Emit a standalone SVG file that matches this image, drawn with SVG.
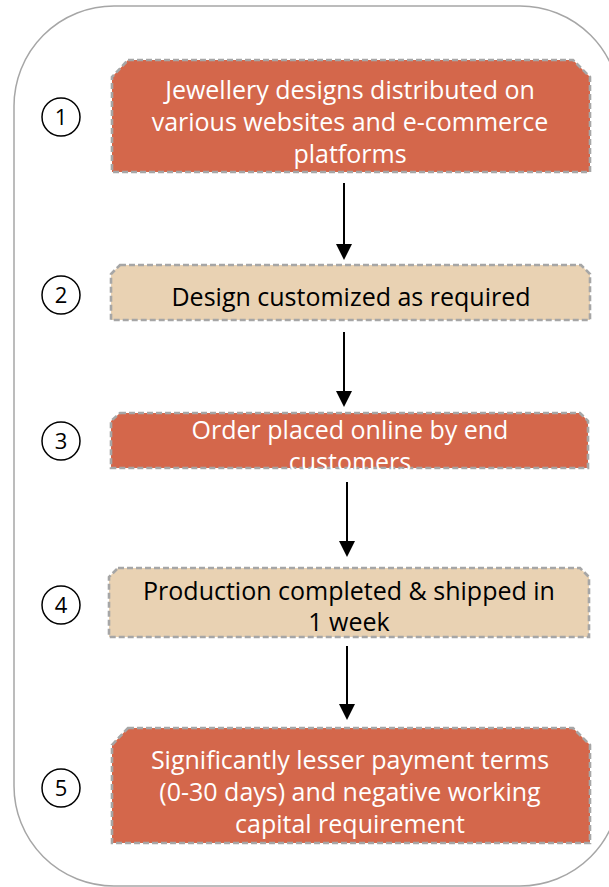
<svg xmlns="http://www.w3.org/2000/svg" width="609" height="887" viewBox="0 0 609 887">
<defs>
<style>
.frame{fill:none;stroke:#A6A6A6;stroke-width:1.5}
.red{fill:#D4674B;stroke:#A6A6A6;stroke-width:2.6;stroke-dasharray:6 3}
.tan{fill:#E9D2B3;stroke:#A6A6A6;stroke-width:2.6;stroke-dasharray:6 3}
.num{fill:none;stroke:#000;stroke-width:1.5}
.nt{font-family:"Open Sans","Noto Sans",sans-serif;font-size:22px;fill:#000;text-anchor:middle}
.wt{font-family:"Open Sans","Noto Sans",sans-serif;font-size:25px;fill:#fff;text-anchor:middle}
.bt{font-family:"Open Sans","Noto Sans",sans-serif;font-size:25px;fill:#000;text-anchor:middle}
.conn{stroke:#000;stroke-width:2;fill:none}
</style>
<marker id="ah" markerWidth="8" markerHeight="8" refX="7" refY="4" orient="auto" markerUnits="strokeWidth">
<path d="M0,0 L8,4 L0,8 Z" fill="#000"/>
</marker>
</defs>
<rect class="frame" x="14" y="6" width="606" height="880" rx="100" ry="100"/>
<g id="node1">
<path class="red" d="M128,60 H573 L590,77 V172 H112 V77 Z"/>
<text class="wt" x="350" y="99">Jewellery designs distributed on</text>
<text class="wt" x="350" y="131">various websites and e-commerce</text>
<text class="wt" x="350" y="163">platforms</text>
</g>
<g id="node2">
<path class="tan" d="M120,265 H581 L590,274 V320 H111 V274 Z"/>
<text class="bt" x="351" y="306">Design customized as required</text>
</g>
<g id="node3">
<path class="red" d="M120,413 H580 L588,421 V468 H111 V421 Z"/>
<text class="wt" x="350" y="439">Order placed online by end</text>
<text class="wt" x="350" y="471">customers</text>
</g>
<g id="node4">
<path class="tan" d="M118,568 H580 L589,577 V637 H109 V577 Z"/>
<text class="bt" x="349" y="600">Production completed &amp; shipped in</text>
<text class="bt" x="349" y="631">1 week</text>
</g>
<g id="node5">
<path class="red" d="M128,728 H573 L590,745 V843 H112 V745 Z"/>
<text class="wt" x="350" y="769">Significantly lesser payment terms</text>
<text class="wt" x="350" y="801">(0-30 days) and negative working</text>
<text class="wt" x="350" y="833">capital requirement</text>
</g>
<g id="num1"><circle class="num" cx="61" cy="117" r="19"/><text class="nt" x="61" y="125">1</text></g>
<g id="num2"><circle class="num" cx="61" cy="295" r="19"/><text class="nt" x="61" y="303">2</text></g>
<g id="num3"><circle class="num" cx="61" cy="441" r="19"/><text class="nt" x="61" y="449">3</text></g>
<g id="num4"><circle class="num" cx="61" cy="605" r="19"/><text class="nt" x="61" y="613">4</text></g>
<g id="num5"><circle class="num" cx="61" cy="788" r="19"/><text class="nt" x="61" y="796">5</text></g>
<g id="connectors">
<line class="conn" x1="344" y1="183" x2="344" y2="258" marker-end="url(#ah)"/>
<line class="conn" x1="344" y1="332" x2="344" y2="405" marker-end="url(#ah)"/>
<line class="conn" x1="347" y1="482" x2="347" y2="555" marker-end="url(#ah)"/>
<line class="conn" x1="347" y1="646" x2="347" y2="718" marker-end="url(#ah)"/>
</g>
</svg>
